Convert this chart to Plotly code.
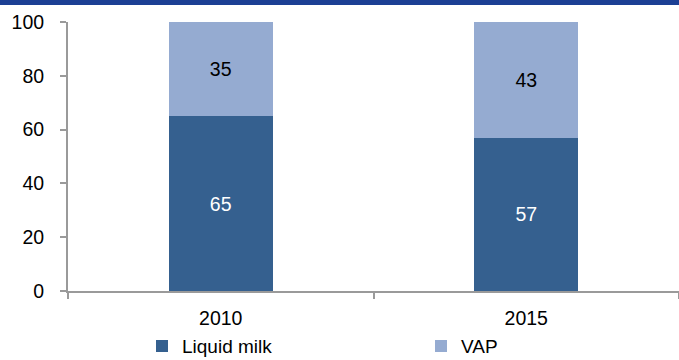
import plotly.graph_objects as go

years = ["2010", "2015"]
liquid_milk = [65, 57]
vap = [35, 43]

dark = "#35608f"
light = "#95abd1"
font = dict(family="Liberation Sans, Arial, sans-serif", size=19.5, color="#000000")
legend_font = dict(family="Liberation Sans, Arial, sans-serif", size=19, color="#000000")

fig = go.Figure()
fig.add_trace(go.Bar(
    x=years, y=liquid_milk, name="Liquid milk", marker_color=dark,
    marker_line_width=0,
    text=liquid_milk, textposition="inside", insidetextanchor="middle",
    textfont=dict(color="#ffffff", size=19.5), width=0.34, legend="legend",
))
fig.add_trace(go.Bar(
    x=years, y=vap, name="VAP", marker_color=light,
    marker_line_width=0,
    text=vap, textposition="inside", insidetextanchor="middle",
    textfont=dict(color="#000000", size=19.5), width=0.34, legend="legend2",
))

# header band across the top of the figure
fig.add_shape(type="rect", xref="paper", yref="paper",
              x0=-0.2, x1=1.2, y0=1 + 17 / 269, y1=1.2,
              fillcolor="#1c3f94", line_width=0, layer="above")

legend_common = dict(orientation="h", y=-0.205, xanchor="left", yanchor="middle",
                     itemwidth=30, font=legend_font, bgcolor="rgba(0,0,0,0)",
                     tracegroupgap=0)

fig.update_layout(
    barmode="stack",
    width=679, height=360,
    margin=dict(l=68, r=0, t=22, b=69, autoexpand=False),
    paper_bgcolor="white", plot_bgcolor="white",
    font=font,
    showlegend=True,
    legend=dict(x=(142 - 68) / 611, **legend_common),
    legend2=dict(x=(421 - 68) / 611, **legend_common),
)
fig.update_xaxes(
    type="category", range=[-0.5, 1.5],
    showline=True, linecolor="#9a9a9a", linewidth=2,
    ticks="outside", tickson="boundaries", ticklen=6, tickcolor="#9a9a9a", tickwidth=2,
    showgrid=False, tickfont=font, ticklabelstandoff=9,
)
fig.update_yaxes(
    range=[0, 100], tickvals=[0, 20, 40, 60, 80, 100],
    showline=True, linecolor="#9a9a9a", linewidth=2,
    ticks="outside", ticklen=6, tickcolor="#9a9a9a", tickwidth=2,
    showgrid=False, zeroline=False, tickfont=font, ticklabelstandoff=12,
)

fig.write_html("out.html")
